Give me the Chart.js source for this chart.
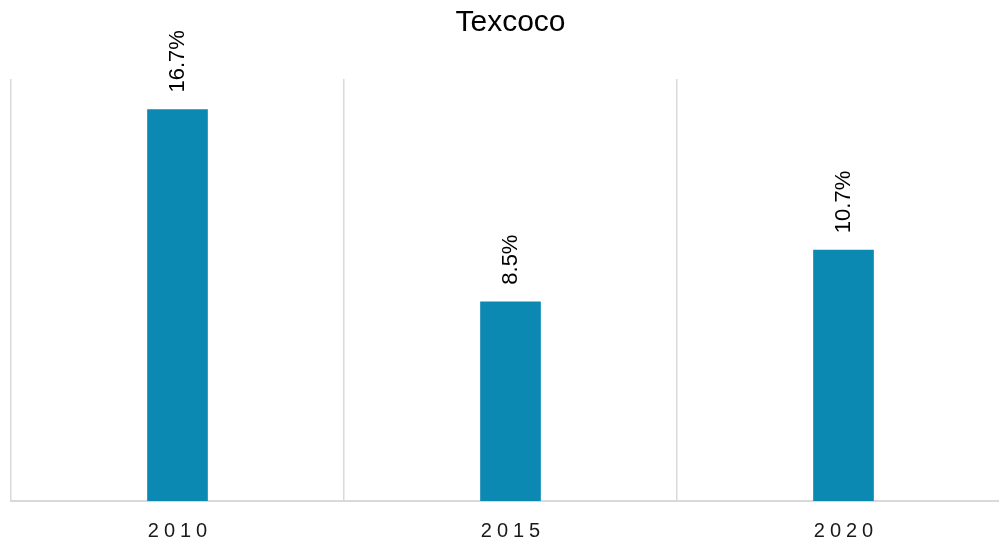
<!DOCTYPE html>
<html>
<head>
<meta charset="utf-8">
<script src="https://cdn.jsdelivr.net/npm/chart.js@4/dist/chart.umd.min.js"></script>
<style>
  html, body { margin: 0; padding: 0; background: #fff; overflow: hidden; }
  #wrap { width: 1010px; height: 541px; }
</style>
</head>
<body>
<div id="wrap"><canvas id="chart"></canvas></div>
<script>
const categories = ['2010', '2015', '2020'];
const shares = [16.7, 8.5, 10.7];
const yMin = 0;
const yMax = 18;

// rotated value labels above each bar
const barLabels = {
  id: 'barLabels',
  afterDatasetsDraw(chart) {
    const ctx = chart.ctx;
    const bars = chart.getDatasetMeta(0).data;
    ctx.save();
    ctx.font = '22px "Liberation Sans", Arial, sans-serif';
    ctx.fillStyle = '#000';
    ctx.textAlign = 'left';
    ctx.textBaseline = 'middle';
    bars.forEach((bar, i) => {
      ctx.save();
      ctx.translate(bar.x, bar.y - 17);
      ctx.rotate(-Math.PI / 2);
      ctx.fillText(shares[i].toFixed(1) + '%', 0, 0);
      ctx.restore();
    });
    ctx.restore();
  }
};

// category labels with letter spacing
const spacedTicks = {
  id: 'spacedTicks',
  afterDraw(chart) {
    const ctx = chart.ctx;
    const x = chart.scales.x;
    ctx.save();
    ctx.font = '20px "Liberation Sans", Arial, sans-serif';
    ctx.fillStyle = '#1a1a1a';
    ctx.textAlign = 'center';
    ctx.textBaseline = 'alphabetic';
    ctx.letterSpacing = '5px';
    categories.forEach((c, i) => {
      ctx.fillText(c, x.getPixelForValue(i) + 2.5, chart.chartArea.bottom + 36);
    });
    ctx.restore();
  }
};

new Chart(document.getElementById('chart'), {
  type: 'bar',
  data: {
    labels: categories,
    datasets: [{
      data: shares,
      backgroundColor: '#0b89b2',
      barThickness: 60
    }]
  },
  options: {
    responsive: true,
    maintainAspectRatio: false,
    animation: false,
    layout: { padding: { left: 11, right: 0, top: 0, bottom: 0 } },
    plugins: {
      legend: { display: false },
      tooltip: { enabled: false },
      title: {
        display: true,
        text: 'Texcoco',
        color: '#000',
        font: { family: '"Liberation Sans", Arial, sans-serif', size: 30, weight: 'normal' },
        padding: { top: 5, bottom: 38 }
      }
    },
    scales: {
      x: {
        grid: { offset: true, color: '#d9d9d9', lineWidth: 1.5, drawTicks: false },
        border: { color: '#d9d9d9', width: 2 },
        ticks: { display: false },
        afterFit(scale) { scale.height = 40; }
      },
      y: {
        display: false,
        min: yMin,
        max: yMax
      }
    }
  },
  plugins: [barLabels, spacedTicks]
});
</script>
</body>
</html>
